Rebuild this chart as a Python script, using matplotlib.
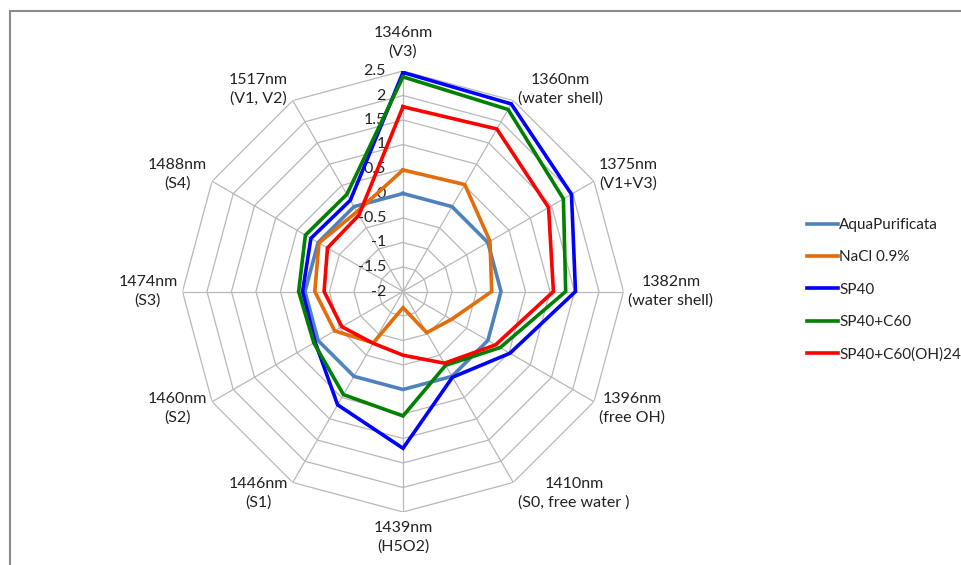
import numpy as np
import matplotlib
matplotlib.use("Agg")
import matplotlib.pyplot as plt
from matplotlib.patches import Rectangle

plt.rcParams['font.family'] = ['Lato', 'DejaVu Sans']

categories = ['1346nm\n(V3)', '1360nm\n(water shell)', '1375nm\n(V1+V3)',
              '1382nm\n(water shell)', '1396nm\n(free OH)', '1410nm\n(S0, free water )',
              '1439nm\n(H5O2)', '1446nm\n(S1)', '1460nm\n(S2)', '1474nm\n(S3)',
              '1488nm\n(S4)', '1517nm\n(V1, V2)']

aqua = [0.0, 0.0, 0.0, 0.0, 0.0, 0.0, 0.0, 0.0, 0.0, 0.0, 0.0, 0.0]
nacl = [0.48, 0.52, 0.05, -0.19, -0.86, -1.03, -1.67, -0.79, -0.39, -0.2, -0.02, -0.12]
sp40 = [2.47, 2.42, 1.97, 1.52, 0.52, 0.02, 1.2, 0.67, 0.07, 0.05, 0.17, 0.15]
sp40_c60 = [2.38, 2.29, 1.78, 1.32, 0.29, -0.26, 0.54, 0.43, 0.1, 0.13, 0.3, 0.29]
sp40_c60oh = [1.77, 1.83, 1.43, 1.07, 0.18, -0.31, -0.7, -0.78, -0.56, -0.39, -0.22, -0.2]

series_names = ['AquaPurificata', 'NaCl 0.9%', 'SP40', 'SP40+C60', 'SP40+C60(OH)24']
series_values = [aqua, nacl, sp40, sp40_c60, sp40_c60oh]
series_colors = ['#4F81BD', '#E46C0A', '#0000FF', '#008000', '#FF0000']

r_ticks = [-2, -1.5, -1, -0.5, 0, 0.5, 1, 1.5, 2, 2.5]
r_tick_labels = ['-2', '-1.5', '-1', '-0.5', '0', '0.5', '1', '1.5', '2', '2.5']

W, H = 962, 565
fig = plt.figure(figsize=(W / 100, H / 100), dpi=100)

# outer chart border (partially cropped in reference)
fig.patches.append(Rectangle((10 / W, -0.1), 1.2, 1 - 11 / H + 0.1,
                             transform=fig.transFigure, fill=False,
                             edgecolor='#8c8c8c', lw=1.5))

cx, cy, R = 403, 291.5, 220.5
ax = fig.add_axes([(cx - R) / W, (H - cy - R) / H, 2 * R / W, 2 * R / H],
                  projection='polar')
ax.set_theta_zero_location('N')
ax.set_theta_direction(-1)
ax.set_ylim(-2, 2.5)
ax.grid(False)
ax.spines['polar'].set_visible(False)
ax.set_xticks([])
ax.set_yticks([])
ax.patch.set_alpha(0)

n = len(categories)
theta = np.arange(n) * 2 * np.pi / n
theta_closed = np.concatenate([theta, theta[:1]])

grid_color = '#b8b8b8'
for v in r_ticks[1:]:
    ax.plot(theta_closed, [v] * (n + 1), color=grid_color, lw=0.9, zorder=1)
for t in theta:
    ax.plot([t, t], [-2, 2.5], color=grid_color, lw=0.9, zorder=1)

for v, lab in zip(r_ticks, r_tick_labels):
    ax.annotate(lab, xy=(0, v), xytext=(-17, 0), textcoords='offset pixels',
                ha='right', va='center', fontsize=11.5, color='#222222', zorder=2)

for name, vals, col in zip(series_names, series_values, series_colors):
    ax.plot(theta_closed, list(vals) + [vals[0]], color=col, lw=2.6,
            label=name, zorder=3, solid_joinstyle='miter')

for t, lab in zip(theta, categories):
    s, c = np.sin(t), np.cos(t)
    if abs(s) < 1e-6:
        ha = 'center'
        va = 'bottom' if c > 0 else 'top'
        off = (0, 12 if c > 0 else -9)
    else:
        ha = 'left' if s > 0 else 'right'
        va = 'center'
        off = (5 * np.sign(s), 13 * c)
    ax.annotate(lab, xy=(t, 2.5), xytext=off, textcoords='offset pixels',
                ha=ha, va=va, multialignment='center', fontsize=11.5,
                color='#222222', linespacing=1.4, annotation_clip=False)

leg = fig.legend(loc='center left', bbox_to_anchor=(801 / W, 1 - 290 / H),
                 frameon=False, fontsize=11, handlelength=2.0, handletextpad=0.1,
                 labelspacing=1.2, borderaxespad=0)
for txt in leg.get_texts():
    txt.set_color('#222222')

fig.savefig('out.png', dpi=100)
